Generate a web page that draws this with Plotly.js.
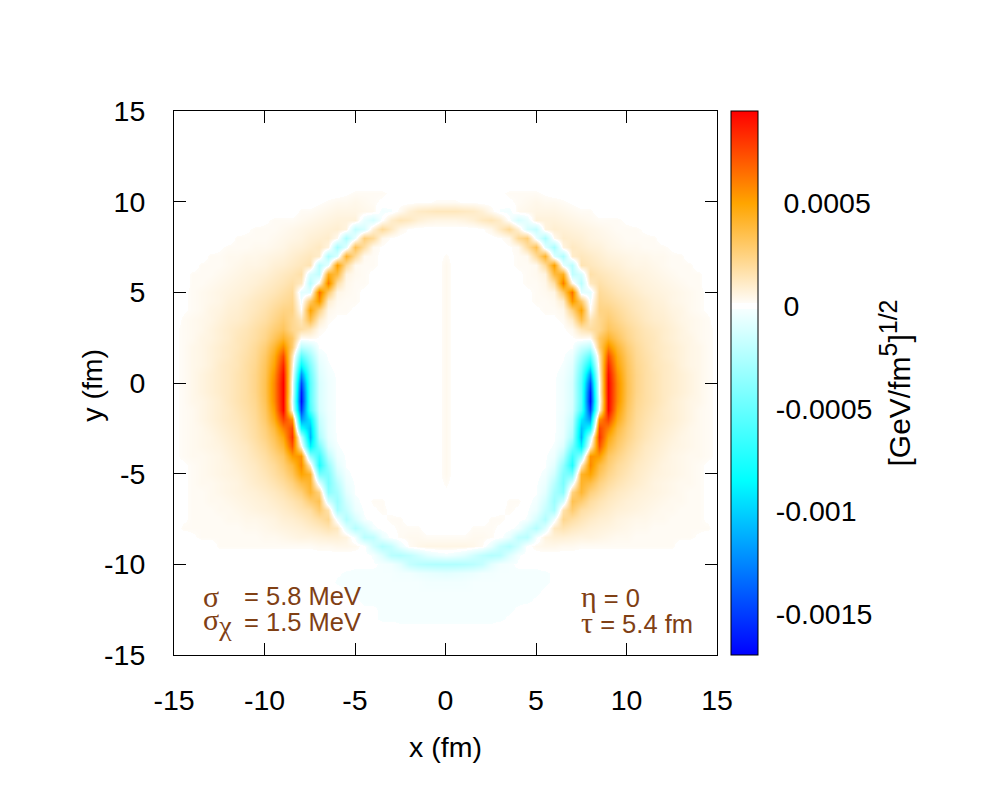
<!DOCTYPE html>
<html>
<head>
<meta charset="utf-8">
<script src="https://cdn.plot.ly/plotly-3.0.1.min.js"></script>
<style>body{margin:0;background:#fff}</style>
</head>
<body>
<div id="myDiv" style="width:1000px;height:800px"></div>
<script>
const tickValues = [-15, -10, -5, 0, 5, 10, 15];
const tickLabels = ['-15', '-10', '-5', '0', '5', '10', '15'];
const barTickValues = [-0.0015, -0.001, -0.0005, 0, 0.0005];
const barTickLabels = ['-0.0015', '-0.001', '-0.0005', '\u00a00', '\u00a00.0005'];
const zMin = -0.0017;
const zMax = 0.00095;

const xGrid = [-15,-14.5,-14,-13.5,-13,-12.5,-12,-11.5,-11,-10.5,-10,-9.5,-9,-8.5,-8,-7.5,-7,-6.5,-6,-5.5,-5,-4.5,-4,-3.5,-3,-2.5,-2,-1.5,-1,-0.5,0,0.5,1,1.5,2,2.5,3,3.5,4,4.5,5,5.5,6,6.5,7,7.5,8,8.5,9,9.5,10,10.5,11,11.5,12,12.5,13,13.5,14,14.5,15];
const yGrid = [15,14.5,14,13.5,13,12.5,12,11.5,11,10.5,10,9.5,9,8.5,8,7.5,7,6.5,6,5.5,5,4.5,4,3.5,3,2.5,2,1.5,1,0.5,0,-0.5,-1,-1.5,-2,-2.5,-3,-3.5,-4,-4.5,-5,-5.5,-6,-6.5,-7,-7.5,-8,-8.5,-9,-9.5,-10,-10.5,-11,-11.5,-12,-12.5,-13,-13.5,-14,-14.5,-15];

// values, in units of 1e-5, one row per y from top to bottom
const zRows = [
[0,0,0,0,0,0,0,0,0,0,0,0,0,0,0,0,0,0,0,0,0,0,0,0,0,0,0,0,0,0,0,0,0,0,0,0,0,0,0,0,0,0,0,0,0,0,0,0,0,0,0,0,0,0,0,0,0,0,0,0,0],
[0,0,0,0,0,0,0,0,0,0,0,0,0,0,0,0,0,0,0,0,0,0,0,0,0,0,0,0,0,0,0,0,0,0,0,0,0,0,0,0,0,0,0,0,0,0,0,0,0,0,0,0,0,0,0,0,0,0,0,0,0],
[0,0,0,0,0,0,0,0,0,0,0,0,0,0,0,0,0,0,0,0,0,0,0,0,0,0,0,0,0,0,0,0,0,0,0,0,0,0,0,0,0,0,0,0,0,0,0,0,0,0,0,0,0,0,0,0,0,0,0,0,0],
[0,0,0,0,0,0,0,0,0,0,0,0,0,0,0,0,0,0,0,0,0,0,0,0,0,0,0,0,0,0,0,0,0,0,0,0,0,0,0,0,0,0,0,0,0,0,0,0,0,0,0,0,0,0,0,0,0,0,0,0,0],
[0,0,0,0,0,0,0,0,0,0,0,0,0,0,0,0,0,0,0,0,0,0,0,0,0,0,0,0,0,0,0,0,0,0,0,0,0,0,0,0,0,0,0,0,0,0,0,0,0,0,0,0,0,0,0,0,0,0,0,0,0],
[0,0,0,0,0,0,0,0,0,0,0,0,0,0,0,0,0,0,0,0,0,0,0,0,0,0,0,0,0,0,0,0,0,0,0,0,0,0,0,0,0,0,0,0,0,0,0,0,0,0,0,0,0,0,0,0,0,0,0,0,0],
[0,0,0,0,0,0,0,0,0,0,0,0,0,0,0,0,0,0,0,0,0,0,0,0,0,0,0,0,0,0,0,0,0,0,0,0,0,0,0,0,0,0,0,0,0,0,0,0,0,0,0,0,0,0,0,0,0,0,0,0,0],
[0,0,0,0,0,0,0,0,0,0,0,0,0,0,0,0,0,0,0,0,0,0,0,0,0,0,0,0,0,0,0,0,0,0,0,0,0,0,0,0,0,0,0,0,0,0,0,0,0,0,0,0,0,0,0,0,0,0,0,0,0],
[0,0,0,0,0,0,0,0,0,0,0,0,0,0,0,0,0,0,0,0,0,0,0,0,0,0,0,0,0,0,0,0,0,0,0,0,0,0,0,0,0,0,0,0,0,0,0,0,0,0,0,0,0,0,0,0,0,0,0,0,0],
[0,0,0,0,0,0,0,0,0,0,0,0,0,0,0,0,0,0,0,1,2,2,2,2,1,0,0,0,0,0,0,0,0,0,0,0,1,2,2,2,2,1,0,0,0,0,0,0,0,0,0,0,0,0,0,0,0,0,0,0,0],
[0,0,0,0,0,0,0,0,0,0,0,0,0,0,0,0,1,2,3,3,4,3,2,1,0,0,0,1,1,2,2,2,1,1,0,0,0,1,2,3,4,3,3,2,1,0,0,0,0,0,0,0,0,0,0,0,0,0,0,0,0],
[0,0,0,0,0,0,0,0,0,0,0,0,0,0,2,2,3,4,5,5,5,4,3,-3,-2,3,8,11,12,13,13,13,12,11,8,3,-2,-3,3,4,5,5,5,4,3,2,2,0,0,0,0,0,0,0,0,0,0,0,0,0,0],
[0,0,0,0,0,0,0,0,0,0,1,2,2,2,3,4,5,6,7,7,7,-6,-12,0,10,14,12,8,6,5,5,5,6,8,12,14,10,0,-12,-6,7,7,7,6,5,4,3,2,2,2,1,0,0,0,0,0,0,0,0,0,0],
[0,0,0,0,0,0,0,0,1,2,2,2,3,4,5,6,7,8,9,6,-18,-12,8,20,12,4,1,0,0,0,0,0,0,0,1,4,12,20,8,-12,-18,6,9,8,7,6,5,4,3,2,2,2,1,0,0,0,0,0,0,0,0],
[0,0,0,0,0,0,0,2,2,2,2,3,4,5,6,8,9,10,3,-26,-5,26,20,4,1,0,0,0,0,0,0,0,0,0,0,0,1,4,20,26,-5,-26,3,10,9,8,6,5,4,3,2,2,2,2,0,0,0,0,0,0,0],
[0,0,0,0,0,1,2,2,2,3,3,4,5,7,8,10,12,6,-28,-8,34,18,3,1,0,0,0,0,0,0,0,0,0,0,0,0,0,1,3,18,34,-8,-28,6,12,10,8,7,5,4,3,3,2,2,2,1,0,0,0,0,0],
[0,0,0,0,2,2,3,3,4,4,5,6,7,9,11,13,10,-26,-10,42,20,3,2,1,1,0,0,0,0,0,2,0,0,0,0,0,1,1,2,3,20,42,-10,-26,10,13,11,9,7,6,5,4,4,3,3,2,2,0,0,0,0],
[0,0,0,2,2,2,3,4,5,5,6,8,9,11,13,15,-22,-6,52,20,3,2,2,1,0,0,0,0,0,0,3,0,0,0,0,0,0,1,2,2,3,20,52,-6,-22,15,13,11,9,8,6,5,5,4,3,2,2,2,0,0,0],
[0,0,2,2,2,3,4,5,6,7,8,10,12,14,17,-12,-20,45,38,6,3,2,1,0,0,0,0,0,0,0,3,0,0,0,0,0,0,0,1,2,3,6,38,45,-20,-12,17,14,12,10,8,7,6,5,4,3,2,2,2,0,0],
[0,0,2,2,3,4,5,6,7,8,10,12,14,17,12,-22,5,62,18,4,2,2,1,0,0,0,0,0,0,0,3,0,0,0,0,0,0,0,1,2,2,4,18,62,5,-22,12,17,14,12,10,8,7,6,5,4,3,2,2,0,0],
[0,1,2,3,4,5,6,7,8,10,12,14,17,20,-8,-8,65,30,5,3,2,1,0,0,0,0,0,0,0,0,3,0,0,0,0,0,0,0,0,1,2,3,5,30,65,-8,-8,20,17,14,12,10,8,7,6,5,4,3,2,1,0],
[0,1,2,3,4,5,7,8,10,12,14,17,20,22,-3,30,55,10,3,2,2,1,0,0,0,0,0,0,0,0,3,0,0,0,0,0,0,0,0,1,2,2,3,10,55,30,-3,22,20,17,14,12,10,8,7,5,4,3,2,1,0],
[0,1,2,3,5,6,8,9,11,13,16,20,24,24,2,50,25,4,2,2,1,0,0,0,0,0,0,0,0,0,3,0,0,0,0,0,0,0,0,0,1,2,2,4,25,50,2,24,24,20,16,13,11,9,8,6,5,3,2,1,0],
[0,2,3,4,5,7,9,10,12,15,18,23,28,22,14,35,10,2,1,1,0,0,0,0,0,0,0,0,0,0,3,0,0,0,0,0,0,0,0,0,0,1,1,2,10,35,14,22,28,23,18,15,12,10,9,7,5,4,3,2,0],
[1,2,3,4,6,8,10,12,14,17,21,27,32,22,18,14,3,1,0,0,0,0,0,0,0,0,0,0,0,0,3,0,0,0,0,0,0,0,0,0,0,0,0,1,3,14,18,22,32,27,21,17,14,12,10,8,6,4,3,2,1],
[1,2,3,5,6,8,10,13,15,18,23,32,42,30,2,3,1,0,0,0,0,0,0,0,0,0,0,0,0,0,3,0,0,0,0,0,0,0,0,0,0,0,0,0,1,3,2,30,42,32,23,18,15,13,10,8,6,5,3,2,1],
[1,2,4,5,7,9,11,13,16,20,27,40,58,28,-22,-15,-1,0,0,0,0,0,0,0,0,0,0,0,0,0,3,0,0,0,0,0,0,0,0,0,0,0,0,0,-1,-15,-22,28,58,40,27,20,16,13,11,9,7,5,4,2,1],
[1,2,4,5,7,9,11,14,17,21,30,46,75,15,-55,-30,-5,-1,0,0,0,0,0,0,0,0,0,0,0,0,3,0,0,0,0,0,0,0,0,0,0,0,0,-1,-5,-30,-55,15,75,46,30,21,17,14,11,9,7,5,4,2,1],
[1,2,4,5,7,10,12,14,18,22,32,50,85,10,-85,-42,-8,-2,0,0,0,0,0,0,0,0,0,0,0,0,3,0,0,0,0,0,0,0,0,0,0,0,0,-2,-8,-42,-85,10,85,50,32,22,18,14,12,10,7,5,4,2,1],
[1,2,4,6,8,10,12,15,18,23,33,55,92,5,-120,-50,-10,-3,-1,0,0,0,0,0,0,0,0,0,0,0,3,0,0,0,0,0,0,0,0,0,0,0,-1,-3,-10,-50,-120,5,92,55,33,23,18,15,12,10,8,6,4,2,1],
[1,2,4,6,8,10,12,15,18,23,34,58,95,0,-145,-55,-12,-4,-1,0,0,0,0,0,0,0,0,0,0,0,3,0,0,0,0,0,0,0,0,0,0,0,-1,-4,-12,-55,-145,0,95,58,34,23,18,15,12,10,8,6,4,2,1],
[1,2,4,6,8,10,12,15,18,23,34,58,95,0,-160,-55,-12,-4,-1,0,0,0,0,0,0,0,0,0,0,0,3,0,0,0,0,0,0,0,0,0,0,0,-1,-4,-12,-55,-160,0,95,58,34,23,18,15,12,10,8,6,4,2,1],
[1,2,4,5,7,9,12,15,18,22,33,57,95,-5,-165,-55,-12,-4,-1,0,0,0,0,0,0,0,0,0,0,0,3,0,0,0,0,0,0,0,0,0,0,0,-1,-4,-12,-55,-165,-5,95,57,33,22,18,15,12,9,7,5,4,2,1],
[1,2,3,5,7,9,11,14,17,21,31,52,94,2,-150,-60,-13,-4,-1,0,0,0,0,0,0,0,0,0,0,0,3,0,0,0,0,0,0,0,0,0,0,0,-1,-4,-13,-60,-150,2,94,52,31,21,17,14,11,9,7,5,3,2,1],
[1,2,3,5,7,9,11,13,16,20,29,46,78,55,-120,-90,-18,-5,-1,0,0,0,0,0,0,0,0,0,0,0,3,0,0,0,0,0,0,0,0,0,0,0,-1,-5,-18,-90,-120,55,78,46,29,20,16,13,11,9,7,5,3,2,1],
[1,2,3,4,6,8,10,12,15,19,26,38,60,76,-80,-105,-22,-5,-1,0,0,0,0,0,0,0,0,0,0,0,3,0,0,0,0,0,0,0,0,0,0,0,-1,-5,-22,-105,-80,76,60,38,26,19,15,12,10,8,6,4,3,2,1],
[1,2,3,4,5,7,9,11,14,18,24,33,48,82,-20,-110,-28,-6,-1,0,0,0,0,0,0,0,0,0,0,0,3,0,0,0,0,0,0,0,0,0,0,0,-1,-6,-28,-110,-20,82,48,33,24,18,14,11,9,7,5,4,3,2,1],
[1,2,3,4,5,6,8,10,12,16,21,29,40,72,5,-90,-45,-10,-2,0,0,0,0,0,0,0,0,0,0,0,3,0,0,0,0,0,0,0,0,0,0,0,-2,-10,-45,-90,5,72,40,29,21,16,12,10,8,6,5,4,3,2,1],
[1,2,3,3,4,5,7,9,11,14,18,24,31,52,55,-35,-65,-22,-4,-1,0,0,0,0,0,0,0,0,0,0,3,0,0,0,0,0,0,0,0,0,0,-1,-4,-22,-65,-35,55,52,31,24,18,14,11,9,7,5,4,3,3,2,1],
[1,1,2,3,4,5,6,8,10,12,16,20,27,38,58,10,-75,-35,-8,-1,0,0,0,0,0,0,0,0,0,0,3,0,0,0,0,0,0,0,0,0,0,-1,-8,-35,-75,10,58,38,27,20,16,12,10,8,6,5,4,3,2,1,1],
[1,1,2,3,4,5,6,7,9,11,14,18,23,32,50,42,-45,-42,-14,-3,0,0,0,0,0,0,0,0,0,0,3,0,0,0,0,0,0,0,0,0,0,-3,-14,-42,-45,42,50,32,23,18,14,11,9,7,6,5,4,3,2,1,1],
[1,1,2,3,3,4,5,6,8,10,12,15,19,25,36,42,-8,-44,-22,-5,-1,0,0,0,0,0,0,0,0,0,2,0,0,0,0,0,0,0,0,0,-1,-5,-22,-44,-8,42,36,25,19,15,12,10,8,6,5,4,3,3,2,1,1],
[1,1,2,2,3,4,5,6,7,8,10,12,15,20,26,40,24,-38,-28,-8,-1,0,0,0,0,0,0,0,0,0,1,0,0,0,0,0,0,0,0,0,-1,-8,-28,-38,24,40,26,20,15,12,10,8,7,6,5,4,3,2,2,1,1],
[1,1,2,2,3,3,4,5,6,7,8,10,12,15,19,28,34,-14,-32,-13,-3,0,2,2,0,0,0,0,0,0,0,0,0,0,0,0,0,2,2,0,-3,-13,-32,-14,34,28,19,15,12,10,8,7,6,5,4,3,3,2,2,1,1],
[1,1,2,2,2,3,3,4,5,6,7,8,10,12,15,18,28,16,-28,-18,-5,-1,1,2,1,0,0,0,0,0,0,0,0,0,0,0,1,2,1,-1,-5,-18,-28,16,28,18,15,12,10,8,7,6,5,4,3,3,2,2,2,1,1],
[0,1,2,2,2,2,3,3,4,4,5,6,8,9,11,14,18,22,-4,-25,-12,-2,0,1,2,2,0,0,0,0,0,0,0,0,0,2,2,1,0,-2,-12,-25,-4,22,18,14,11,9,8,6,5,4,4,3,3,2,2,2,2,1,0],
[0,2,2,2,2,2,2,2,3,3,4,5,6,7,8,10,12,15,12,-9,-24,-14,-3,0,1,2,2,2,0,0,0,0,0,2,2,2,1,0,-3,-14,-24,-9,12,15,12,10,8,7,6,5,4,3,3,2,2,2,2,2,2,2,0],
[0,0,1,2,2,2,2,2,2,2,3,3,4,5,6,6,7,8,8,6,-3,-22,-20,-6,0,2,3,3,2,2,2,2,2,3,3,2,0,-6,-20,-22,-3,6,8,8,7,6,6,5,4,3,3,2,2,2,2,2,2,2,1,0,0],
[0,0,0,0,0,2,2,2,2,2,2,2,2,2,2,2,3,3,4,4,3,0,-14,-24,-18,-6,2,4,5,5,5,5,5,4,2,-6,-18,-24,-14,0,3,4,4,3,3,2,2,2,2,2,2,2,2,2,2,2,0,0,0,0,0],
[0,0,0,0,0,0,0,0,0,0,0,0,0,0,0,0,0,0,0,0,0,0,-2,-10,-22,-24,-20,-14,-8,-5,-3,-5,-8,-14,-20,-24,-22,-10,-2,0,0,0,0,0,0,0,0,0,0,0,0,0,0,0,0,0,0,0,0,0,0],
[0,0,0,0,0,0,0,0,0,0,0,0,0,0,0,0,0,0,0,0,-1,-1,-1,-2,-3,-8,-18,-22,-24,-25,-25,-25,-24,-22,-18,-8,-3,-2,-1,-1,-1,0,0,0,0,0,0,0,0,0,0,0,0,0,0,0,0,0,0,0,0],
[0,0,0,0,0,0,0,0,0,0,0,0,0,0,0,0,0,0,-1,-2,-2,-2,-2,-2,-2,-3,-3,-5,-6,-7,-8,-7,-6,-5,-3,-3,-2,-2,-2,-2,-2,-2,-1,0,0,0,0,0,0,0,0,0,0,0,0,0,0,0,0,0,0],
[0,0,0,0,0,0,0,0,0,0,0,0,0,0,0,0,0,0,-2,-2,-2,-2,-2,-2,-2,-2,-2,-2,-3,-3,-3,-3,-3,-2,-2,-2,-2,-2,-2,-2,-2,-2,-1,0,0,0,0,0,0,0,0,0,0,0,0,0,0,0,0,0,0],
[0,0,0,0,0,0,0,0,0,0,0,0,0,0,0,0,0,0,0,-2,-2,-2,-2,-2,-2,-2,-2,-2,-2,-2,-2,-2,-2,-2,-2,-2,-2,-2,-2,-2,-2,-1,0,0,0,0,0,0,0,0,0,0,0,0,0,0,0,0,0],
[0,0,0,0,0,0,0,0,0,0,0,0,0,0,0,0,0,0,0,0,-1,-2,-2,-2,-2,-2,-2,-2,-2,-2,-2,-2,-2,-2,-2,-2,-2,-2,-2,-2,-1,0,0,0,0,0,0,0,0,0,0,0,0,0,0,0,0,0,0,0,0],
[0,0,0,0,0,0,0,0,0,0,0,0,0,0,0,0,0,0,0,0,0,-1,-1,-2,-2,-2,-2,-2,-2,-2,-2,-2,-2,-2,-2,-2,-2,-2,-1,0,0,0,0,0,0,0,0,0,0,0,0,0,0,0,0,0,0,0,0,0,0],
[0,0,0,0,0,0,0,0,0,0,0,0,0,0,0,0,0,0,0,0,0,0,-1,-2,-2,-2,-2,-2,-2,-2,-2,-2,-2,-2,-2,-2,-2,-1,0,0,0,0,0,0,0,0,0,0,0,0,0,0,0,0,0,0,0,0,0],
[0,0,0,0,0,0,0,0,0,0,0,0,0,0,0,0,0,0,0,0,0,0,0,0,0,-1,-1,-1,-1,-1,-1,-1,-1,-1,-1,-1,0,0,0,0,0,0,0,0,0,0,0,0,0,0,0,0,0,0,0,0,0,0,0,0,0],
[0,0,0,0,0,0,0,0,0,0,0,0,0,0,0,0,0,0,0,0,0,0,0,0,0,0,0,0,0,0,0,0,0,0,0,0,0,0,0,0,0,0,0,0,0,0,0,0,0,0,0,0,0,0,0,0,0,0,0,0,0],
[0,0,0,0,0,0,0,0,0,0,0,0,0,0,0,0,0,0,0,0,0,0,0,0,0,0,0,0,0,0,0,0,0,0,0,0,0,0,0,0,0,0,0,0,0,0,0,0,0,0,0,0,0,0,0,0,0,0,0,0,0],
[0,0,0,0,0,0,0,0,0,0,0,0,0,0,0,0,0,0,0,0,0,0,0,0,0,0,0,0,0,0,0,0,0,0,0,0,0,0,0,0,0,0,0,0,0,0,0,0,0,0,0,0,0,0,0,0,0,0,0,0,0]
];

const zValues = zRows.map(row => row.map(v => v * 1e-5));

const barPos = v => (v - zMin) / (zMax - zMin);

const plotLeft = 174;
const plotWidth = 543;
const fontFamily = '"Liberation Sans", Arial, sans-serif';
const axisFont = {family: fontFamily, size: 28.5, color: '#000'};
const labelFont = {family: fontFamily, size: 25.5, color: '#804014'};
const greek = (s, px) => `<span style="font-family:'Liberation Serif',serif;font-size:${px}px">${s}</span>`;

const note = (text, x, y) => ({
  text: text, x: x, y: y, xref: 'x', yref: 'y',
  xanchor: 'left', yanchor: 'middle', showarrow: false, font: labelFont
});

const axisStyle = {
  range: [-15, 15],
  tickmode: 'array',
  tickvals: tickValues,
  ticktext: tickLabels,
  ticks: 'inside',
  ticklen: 12,
  tickwidth: 1,
  tickcolor: '#000',
  showgrid: false,
  zeroline: false,
  showline: true,
  linecolor: '#000',
  linewidth: 1,
  mirror: 'ticks',
  tickfont: axisFont,
};

const trace = {
  type: 'heatmap',
  x: xGrid,
  y: yGrid,
  z: zValues,
  zmin: zMin,
  zmax: zMax,
  zsmooth: 'best',
  colorscale: [
    [0, '#0000ff'],
    [barPos(-0.00085), '#00ffff'],
    [barPos(-0.000015), 'rgb(246,255,255)'],
    [barPos(-0.000015), '#ffffff'],
    [barPos(0.000015), '#ffffff'],
    [barPos(0.000015), 'rgb(255,252,247)'],
    [barPos(0.0005), '#ffa500'],
    [1, '#ff0000'],
  ],
  colorbar: {
    x: (731 - plotLeft) / plotWidth,
    xanchor: 'left',
    xpad: 0,
    ypad: 0,
    y: 0.5,
    yanchor: 'middle',
    len: 1,
    lenmode: 'fraction',
    thickness: 27,
    thicknessmode: 'pixels',
    outlinewidth: 1,
    outlinecolor: '#000',
    tickmode: 'array',
    tickvals: barTickValues,
    ticktext: barTickLabels,
    ticks: 'outside',
    ticklen: 12,
    tickcolor: 'rgba(0,0,0,0)',
    tickfont: axisFont,
    title: {
      text: '[GeV/fm<sup><span style="font-size:25px">5</span></sup>]<sup><span style="font-size:25px">1/2</span></sup>',
      side: 'right',
      font: {family: fontFamily, size: 30, color: '#000'},
    },
  },
};

// small tick dashes on both edges of the colour bar
const barLeft = (731 - plotLeft) / plotWidth;
const barRight = (758 - plotLeft) / plotWidth;
const dash = 8 / plotWidth;
const barTicks = [];
for (const v of barTickValues) {
  for (const [x0, x1] of [[barLeft, barLeft + dash], [barRight - dash, barRight]]) {
    barTicks.push({
      type: 'line', xref: 'paper', yref: 'paper',
      x0: x0, x1: x1, y0: barPos(v), y1: barPos(v),
      line: {color: '#000', width: 1},
    });
  }
}

const layout = {
  width: 1000,
  height: 800,
  margin: {l: plotLeft, r: 283, t: 111, b: 145, pad: 0},
  paper_bgcolor: '#fff',
  plot_bgcolor: '#fff',
  xaxis: Object.assign({}, axisStyle, {
    ticklabelstandoff: 20,
    title: {text: 'x (fm)', standoff: 21, font: axisFont},
  }),
  yaxis: Object.assign({}, axisStyle, {
    ticklabelstandoff: 22,
  }),
  shapes: barTicks,
  annotations: [
    {text: 'y (fm)', xref: 'paper', yref: 'paper', x: (92 - plotLeft) / plotWidth, y: 0.495,
     xanchor: 'center', yanchor: 'middle', textangle: -90, showarrow: false, font: axisFont},
    note(greek('σ', 30), -13.5, -11.75),
    note('= 5.8 MeV', -11.25, -11.75),
    note(greek('σ', 30) + '<sub>' + greek('χ', 28) + '</sub>', -13.5, -13.2),
    note('= 1.5 MeV', -11.25, -13.2),
    note(greek('η', 30) + ' = 0', 7.4, -11.75),
    note(greek('τ', 30) + ' = 5.4 fm', 7.4, -13.2),
  ],
};

Plotly.newPlot('myDiv', [trace], layout, {displayModeBar: false});
</script>
</body>
</html>
